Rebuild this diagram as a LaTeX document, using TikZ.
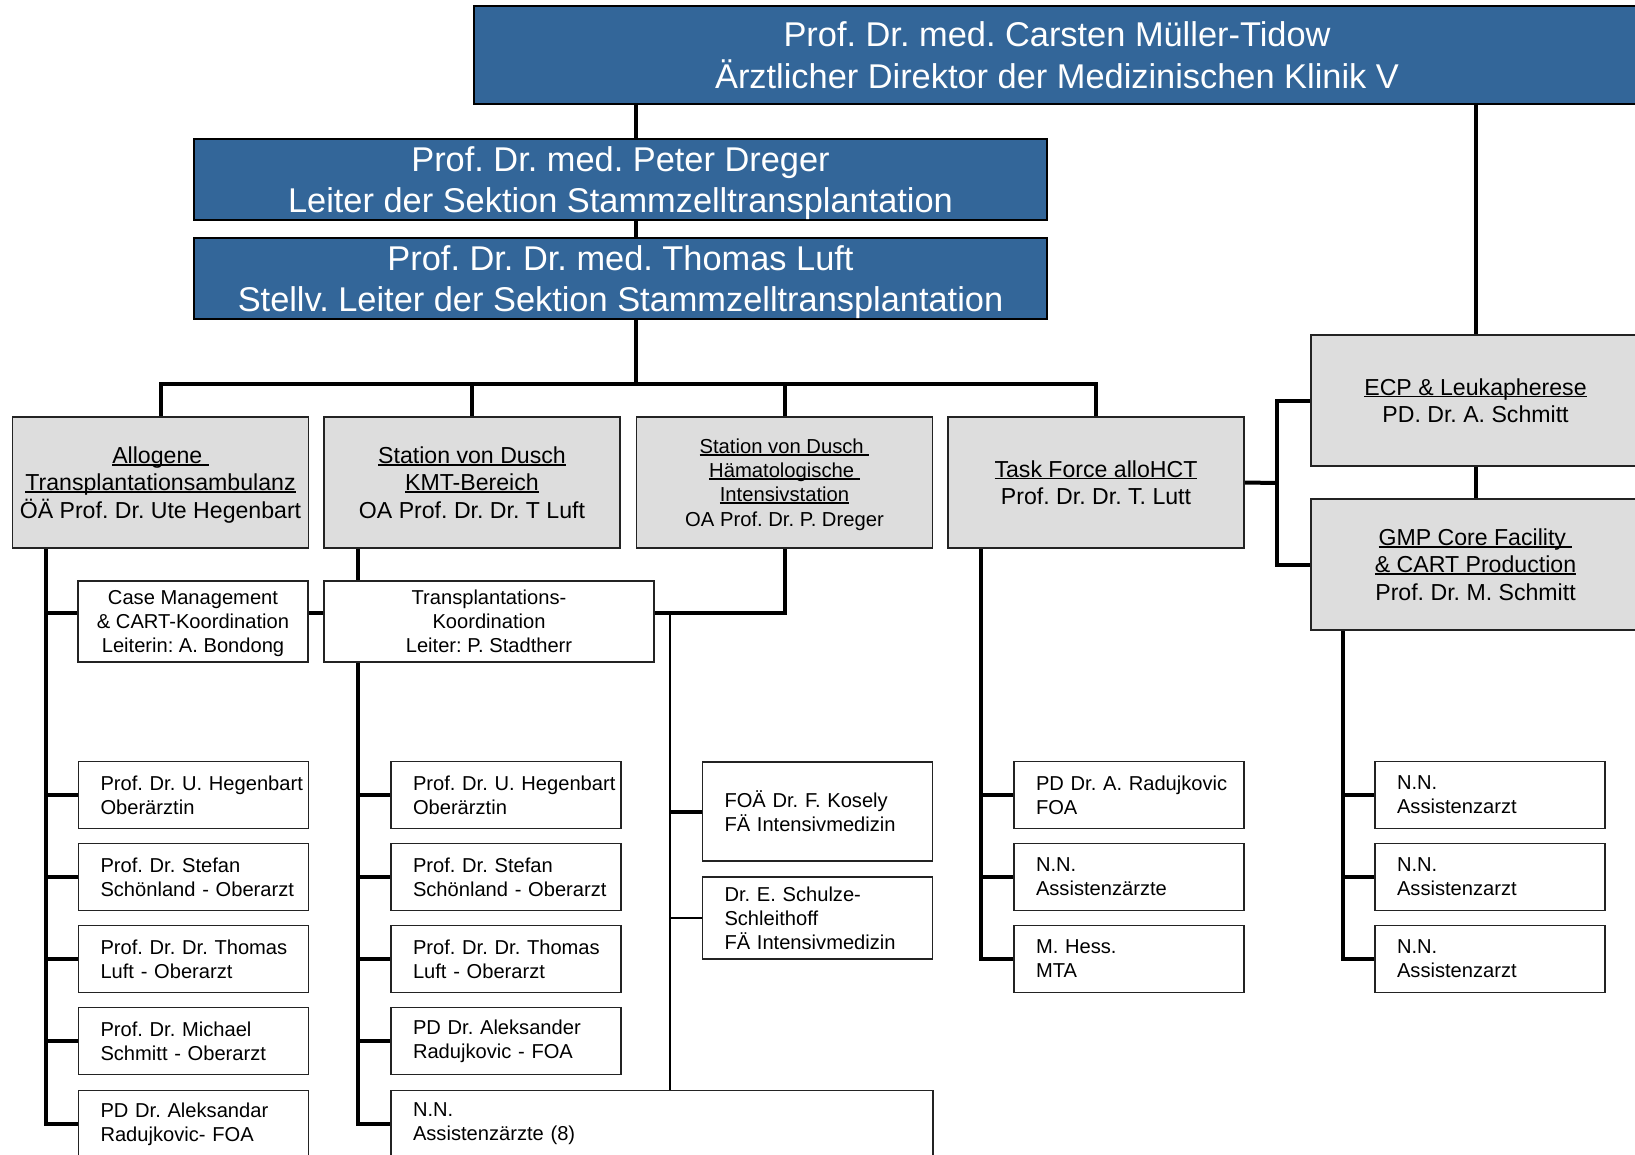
\documentclass[tikz,border=0pt]{standalone}
\usepackage{fontspec}
\setmainfont{Liberation Sans}
\usepackage{xcolor}
\usetikzlibrary{backgrounds}
\frenchspacing

\definecolor{headblue}{RGB}{51,102,153}
\definecolor{unitgrey}{RGB}{221,221,221}
\definecolor{edgegrey}{RGB}{35,35,35}

\newcommand{\orgheadfont}{\fontsize{34.5}{41.5}\selectfont}
\newcommand{\orgunitfont}{\fontsize{23.2}{27.6}\selectfont}
\newcommand{\orgsmallfont}{\fontsize{20.3}{24.3}\selectfont}
\newcommand{\orgleaffont}{\fontsize{20.2}{24}\selectfont\hyphenpenalty=10000\exhyphenpenalty=10000}
\newcommand{\undl}[1]{\leavevmode\setbox0=\hbox{#1}\rlap{\rule[-0.1em]{\wd0}{0.075em}}\box0}

\tikzset{
  headbox/.style={draw=black, line width=1.8bp, fill=headblue, text=white, font=\orgheadfont, align=center, inner sep=0pt, text depth=0pt},
  unitbox/.style={draw=edgegrey, line width=1.8bp, fill=unitgrey, font=\orgunitfont, align=center, inner sep=0pt, text depth=0pt, minimum width=296bp, minimum height=131bp},
  coordbox/.style={draw=edgegrey, line width=1.8bp, fill=white, font=\orgleaffont, align=center, inner sep=0pt, text depth=0pt, minimum height=81bp},
  leafbox/.style={draw=edgegrey, line width=1.8bp, fill=white, font=\orgleaffont, align=left, inner xsep=4bp, inner ysep=0pt, text width=222bp, minimum height=67bp, execute at begin node={\leftskip=18bp}},
  conn/.style={line width=4bp},
  thinconn/.style={line width=2.5bp}
}

\begin{document}
\begin{tikzpicture}[x=1bp, y=-1bp]
\useasboundingbox (0,0) rectangle (1635,1154);
\begin{scope}[on background layer]
  \fill[white] (0,0) rectangle (1635,1154);
\end{scope}

% leadership
\node[headbox, minimum width=1166bp, minimum height=98bp] (dir) at (1057,55) {Prof. Dr. med. Carsten Müller-Tidow\\Ärztlicher Direktor der Medizinischen Klinik V};
\node[headbox, minimum width=853bp, minimum height=81bp] (dreger) at (620.5,179.5) {Prof. Dr. med. Peter Dreger\\Leiter der Sektion Stammzelltransplantation};
\node[headbox, minimum width=853bp, minimum height=81bp] (luft) at (620.5,278.5) {Prof. Dr. Dr. med. Thomas Luft\\Stellv. Leiter der Sektion Stammzelltransplantation};

% units
\node[unitbox] (allo) at (160.5,482.5) {\undl{Allogene\ }\\\undl{Transplantationsambulanz}\\ÖÄ Prof. Dr. Ute Hegenbart};
\node[unitbox] (kmt) at (472,482.5) {\undl{Station von Dusch}\\\undl{KMT-Bereich}\\OA Prof. Dr. Dr. T Luft};
\node[unitbox, font=\orgsmallfont] (haem) at (784.5,482.5) {\undl{Station von Dusch\ }\\\undl{Hämatologische\ }\\\undl{Intensivstation}\\OA Prof. Dr. P. Dreger};
\node[unitbox] (task) at (1096,482.5) {\undl{Task Force alloHCT}\\Prof. Dr. Dr. T. Lutt};
\node[unitbox, minimum width=329bp] (ecp) at (1475.5,400.5) {\undl{ECP \& Leukapherese}\\PD. Dr. A. Schmitt};
\node[unitbox, minimum width=329bp] (gmp) at (1475.5,564.5) {\undl{GMP Core Facility\ }\\\undl{\& CART Production}\\Prof. Dr. M. Schmitt};

% coordination
\node[coordbox, minimum width=230bp] (cm) at (193,621.5) {Case Management\\\& CART-Koordination\\Leiterin: A. Bondong};
\node[coordbox, minimum width=330bp] (tk) at (489,621.5) {Transplantations-\\Koordination\\Leiter: P. Stadtherr};

% staff
\node[leafbox] (a1) at (193.5,795) {Prof. Dr. U. Hegenbart\\Oberärztin};
\node[leafbox] (a2) at (193.5,877) {Prof. Dr. Stefan\\Schönland - Oberarzt};
\node[leafbox] (a3) at (193.5,959) {Prof. Dr. Dr. Thomas\\Luft - Oberarzt};
\node[leafbox] (a4) at (193.5,1041) {Prof. Dr. Michael\\Schmitt - Oberarzt};
\node[leafbox] (a5) at (193.5,1124) {PD Dr. Aleksandar\\Radujkovic- FOA};

\node[leafbox] (b1) at (506,795) {Prof. Dr. U. Hegenbart\\Oberärztin};
\node[leafbox] (b2) at (506,877) {Prof. Dr. Stefan\\Schönland - Oberarzt};
\node[leafbox] (b3) at (506,959) {Prof. Dr. Dr. Thomas\\Luft - Oberarzt};
\node[leafbox] (b4) at (506,1041) {PD Dr. Aleksander\\Radujkovic - FOA};
\node[leafbox, text width=534bp] (b5) at (662,1124) {N.N.\\Assistenzärzte (8)};

\node[leafbox, minimum height=99bp] (c1) at (817.5,811.5) {FOÄ Dr. F. Kosely\\FÄ Intensivmedizin};
\node[leafbox, minimum height=82bp] (c2) at (817.5,918) {Dr. E. Schulze-\\Schleithoff\\FÄ Intensivmedizin};

\node[leafbox] (d1) at (1129,795) {PD Dr. A. Radujkovic\\FOA};
\node[leafbox] (d2) at (1129,877) {N.N.\\Assistenzärzte};
\node[leafbox] (d3) at (1129,959) {M. Hess.\\MTA};

\node[leafbox] (e1) at (1490,795) {N.N.\\Assistenzarzt};
\node[leafbox] (e2) at (1490,877) {N.N.\\Assistenzarzt};
\node[leafbox] (e3) at (1490,959) {N.N.\\Assistenzarzt};

% junctions
\coordinate (jt) at (636,384);
\coordinate (ja) at (46,613);
\coordinate (jb) at (358,613);
\coordinate (jc) at (670,613);
\coordinate (jd) at (981,613);
\coordinate (je) at (1343,613);
\coordinate (jr) at (1277,483);

\begin{scope}[on background layer]
  \draw[conn] (dir.south -| jt) -- (jt);
  \draw[conn] (allo.north) |- (task.north |- jt) -- (task.north);
  \foreach \nd in {kmt,haem}
    \draw[conn] (\nd.north |- jt) -- (\nd.north);
  \draw[conn] (dir.south -| ecp.north) -- (ecp.north);
  \draw[conn] (ecp.south) -- (gmp.north);
  \draw[conn] (task.east) -- (jr);
  \draw[conn] (ecp.west) -| (jr) |- (gmp.west);

  \draw[conn] (allo.south -| ja) |- (a5.west);
  \draw[conn] (ja) -- (cm.west |- ja);
  \draw[conn] (cm.east |- ja) -- (tk.west |- ja);
  \foreach \nd in {a1,a2,a3,a4}
    \draw[conn] (ja |- \nd.west) -- (\nd.west);

  \draw[conn] (kmt.south -| jb) -- (tk.north -| jb);
  \draw[conn] (tk.south -| jb) |- (b5.west);
  \foreach \nd in {b1,b2,b3,b4}
    \draw[conn] (jb |- \nd.west) -- (\nd.west);

  \draw[conn] (haem.south) |- (tk.east |- ja);
  \draw[thinconn] (jc) -- (b5.north -| jc);
  \draw[conn] (jc |- c1.west) -- (c1.west);
  \draw[thinconn] (jc |- c2.west) -- (c2.west);

  \draw[conn] (task.south -| jd) |- (d3.west);
  \foreach \nd in {d1,d2}
    \draw[conn] (jd |- \nd.west) -- (\nd.west);

  \draw[conn] (gmp.south -| je) |- (e3.west);
  \foreach \nd in {e1,e2}
    \draw[conn] (je |- \nd.west) -- (\nd.west);
\end{scope}
\end{tikzpicture}
\end{document}
